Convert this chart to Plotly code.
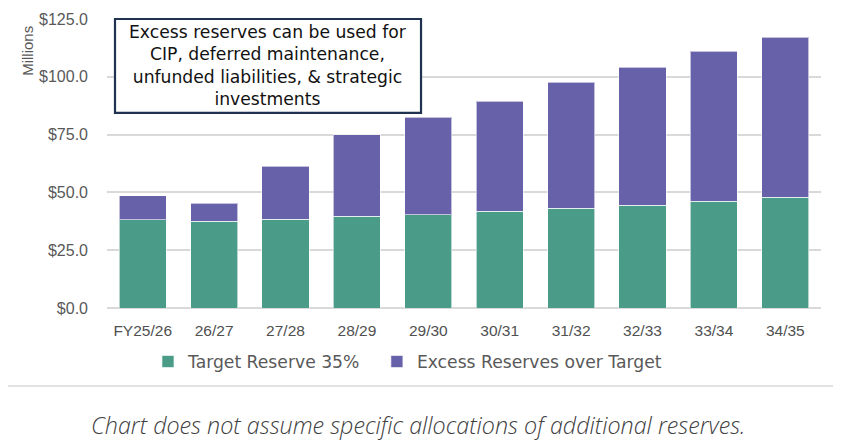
import plotly.graph_objects as go

# fiscal years and reserve values ($ millions)
years = ['FY25/26', '26/27', '27/28', '28/29', '29/30', '30/31', '31/32', '32/33', '33/34', '34/35']
target_reserve = [38.1, 37.5, 38.4, 39.6, 40.3, 41.9, 43.2, 44.5, 46.2, 47.9]
excess_reserve = [10.4, 7.8, 22.9, 35.3, 42.1, 47.6, 54.4, 59.7, 64.8, 69.2]

GREEN = '#4a9c89'
PURPLE = '#6661a9'
GRAY = '#595959'
LEGEND_FONT = dict(family='DejaVu Sans, Verdana, sans-serif', size=17.2, color=GRAY)

fig = go.Figure()
fig.add_trace(go.Bar(x=years, y=target_reserve, name='Target Reserve 35%', legend='legend',
                     marker=dict(color=GREEN, line=dict(color='rgba(255,255,255,0.6)', width=1))))
fig.add_trace(go.Bar(x=years, y=excess_reserve, name='Excess Reserves over Target', legend='legend2',
                     marker=dict(color=PURPLE, line=dict(color='rgba(255,255,255,0.6)', width=1))))

# page body adds an 8px offset, so the figure is 8px smaller than the window
fig.update_layout(
    barmode='stack',
    bargap=0.34,
    width=834, height=438,
    margin=dict(l=99, r=21, t=11, b=138, autoexpand=False),
    paper_bgcolor='white', plot_bgcolor='white',
    font=dict(family='Liberation Sans, Arial, sans-serif', color=GRAY),
    showlegend=True,
    legend=dict(orientation='h', x=0.0574, xanchor='left', y=-0.124, yanchor='top', font=LEGEND_FONT),
    legend2=dict(orientation='h', x=0.378, xanchor='left', y=-0.124, yanchor='top', font=LEGEND_FONT),
)
fig.update_xaxes(showline=False, ticks='', showgrid=False, automargin=False, ticklabelstandoff=11,
                 tickfont=dict(family='Liberation Sans, Arial, sans-serif', size=15.5, color='#505050'))
fig.update_yaxes(range=[0, 125], tickvals=[0, 25, 50, 75, 100, 125], tickformat='$.1f',
                 showgrid=True, gridcolor='#d9d9d9', gridwidth=1.5, zeroline=True, zerolinecolor='#d9d9d9',
                 zerolinewidth=1.5, showline=False, ticks='', ticklabelstandoff=18, automargin=False,
                 tickfont=dict(size=16, color=GRAY))

# "Millions" axis title near the top of the axis
fig.add_annotation(text='Millions', xref='paper', yref='paper', x=-0.1106, y=0.89,
                   xanchor='center', yanchor='middle',
                   textangle=-90, showarrow=False, font=dict(size=15, color=GRAY))

# callout box
fig.add_shape(type='rect', xref='paper', yref='paper', x0=0.0112, x1=0.4398, y0=0.675, y1=1.0,
              line=dict(color='#1f3350', width=2.2), fillcolor='white', layer='above')
fig.add_annotation(text='Excess reserves can be used for<br>CIP, deferred maintenance,<br>'
                        'unfunded liabilities, &amp; strategic<br>investments',
                   xref='paper', yref='paper', x=0.2255, y=0.8375, xanchor='center', yanchor='middle',
                   showarrow=False, align='center',
                   font=dict(family='DejaVu Sans, Verdana, sans-serif', size=17.2, color='#111111'))

# divider line and footnote under the legend
fig.add_shape(type='line', xref='paper', yref='paper', x0=-0.143, x1=1.017, y0=-0.27, y1=-0.27,
              line=dict(color='#d9d9d9', width=1.5))
fig.add_annotation(text='Chart does not assume specific allocations of additional reserves.',
                   xref='paper', yref='paper', x=0.436, y=-0.405, xanchor='center', yanchor='middle',
                   showarrow=False,
                   font=dict(family='Open Sans, sans-serif', size=23.3, style='italic', weight=300,
                             color='#404040'))

fig.write_html('out.html')
